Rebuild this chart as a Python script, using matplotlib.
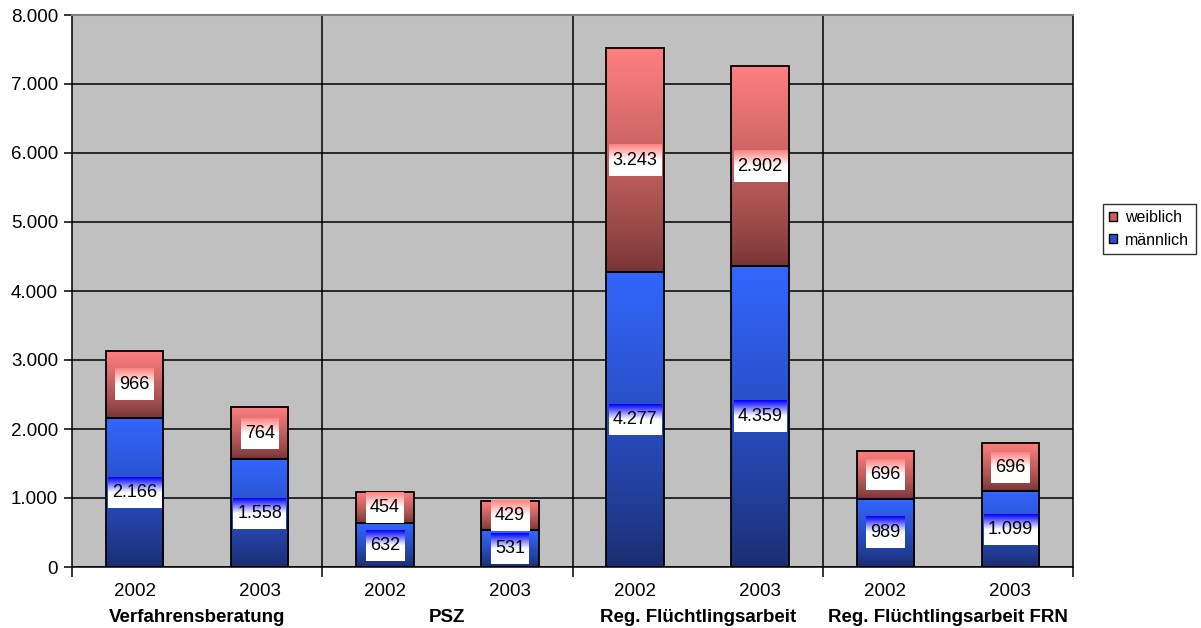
import numpy as np
import matplotlib
matplotlib.use("Agg")
import matplotlib.pyplot as plt
from matplotlib.colors import to_rgb
from matplotlib.patches import Rectangle, Patch
from matplotlib.transforms import blended_transform_factory

plt.rcParams['font.family'] = ['Liberation Sans', 'DejaVu Sans']

groups = ['Verfahrensberatung', 'PSZ', 'Reg. Flüchtlingsarbeit', 'Reg. Flüchtlingsarbeit FRN']
years = ['2002', '2003', '2002', '2003', '2002', '2003', '2002', '2003']
maennlich = [2166, 1558, 632, 531, 4277, 4359, 989, 1099]
weiblich = [966, 764, 454, 429, 3243, 2902, 696, 696]

blue_top, blue_bot = '#3366ff', '#1a2c6c'
red_top, red_bot = '#ff8080', '#743434'


def fmt(v):
    return f'{v:,}'.replace(',', '.')


def bar_grad(top, bottom, n=256, gamma=0.8):
    # row 0 is the top of the bar
    t = np.linspace(1, 0, n)[:, None] ** gamma
    top = np.array(to_rgb(top))
    bottom = np.array(to_rgb(bottom))
    return bottom + (top - bottom) * t[..., None]


def label_grad(col, n=64, reach=0.5):
    t = np.linspace(0, 1, n)[:, None]
    k = np.clip(1 - t / reach, 0, 1)
    col = np.array(to_rgb(col))
    white = np.ones(3)
    return white + (col - white) * k[..., None]


fig = plt.figure(figsize=(12.01, 6.28), dpi=100)
ax = fig.add_axes([72 / 1201, 61 / 628, 1001 / 1201, 552 / 628])
ax.set_facecolor('#c0c0c0')

x = np.arange(len(maennlich)) + 0.5
w = 0.46

for i in range(len(x)):
    m, f = maennlich[i], weiblich[i]
    ax.imshow(bar_grad(blue_top, blue_bot), extent=[x[i] - w / 2, x[i] + w / 2, 0, m],
              aspect='auto', zorder=2, interpolation='bilinear')
    ax.imshow(bar_grad(red_top, red_bot), extent=[x[i] - w / 2, x[i] + w / 2, m, m + f],
              aspect='auto', zorder=2, interpolation='bilinear')
    ax.add_patch(Rectangle((x[i] - w / 2, 0), w, m, fill=False, ec='black', lw=1.3, zorder=3))
    ax.add_patch(Rectangle((x[i] - w / 2, m), w, f, fill=False, ec='black', lw=1.3, zorder=3))

for s in [2, 4, 6]:
    ax.axvline(s, color='black', lw=1.1, zorder=1)

ax.set_xlim(0, 8)
ax.set_ylim(0, 8000)
ax.set_yticks(range(0, 8001, 1000))
ax.set_yticklabels([fmt(v) for v in range(0, 8001, 1000)], fontsize=13.5)
ax.yaxis.grid(True, color='black', lw=1.1)
ax.set_axisbelow(True)
ax.set_xticks([0, 2, 4, 6, 8])
ax.set_xticklabels([])
ax.tick_params(axis='x', length=7, width=1.1, direction='out')
ax.tick_params(axis='y', length=6, width=1.1, direction='out', pad=4)

ax.spines['top'].set_color('#808080')
ax.spines['top'].set_linewidth(1.5)
for sp in ['left', 'bottom', 'right']:
    ax.spines[sp].set_color('black')
    ax.spines[sp].set_linewidth(1.1)

# data labels
labels = []
for i in range(len(x)):
    m, f = maennlich[i], weiblich[i]
    t1 = ax.text(x[i], m / 2, fmt(m), ha='center', va='center', fontsize=13, zorder=5)
    t2 = ax.text(x[i], m + f / 2, fmt(f), ha='center', va='center', fontsize=13, zorder=5)
    labels.append((t1, m / 2, 'blue'))
    labels.append((t2, m + f / 2, 'red'))

fig.canvas.draw()
inv = ax.transData.inverted()
for t, yc, kind in labels:
    bb = t.get_window_extent()
    cx, cy = ax.transData.transform((0, yc))
    x0, y0 = inv.transform((bb.x0 - 4, cy - 15.5))
    x1, y1 = inv.transform((bb.x1 + 4, cy + 15.5))
    col = '#0000ff' if kind == 'blue' else '#ff8080'
    ax.imshow(label_grad(col), extent=[x0, x1, y0, y1], aspect='auto', zorder=4,
              interpolation='bilinear')

ax.set_xlim(0, 8)
ax.set_ylim(0, 8000)

trans = blended_transform_factory(ax.transData, ax.transAxes)
for i in range(len(x)):
    ax.text(x[i], -0.045, years[i], transform=trans, ha='center', va='center', fontsize=13.5)
for g, name in enumerate(groups):
    ax.text(2 * g + 1, -0.091, name, transform=trans, ha='center', va='center',
            fontsize=13.5, fontweight='bold')

handles = [Patch(facecolor='#d05a5a', edgecolor='black', label='weiblich'),
           Patch(facecolor='#2a4fd0', edgecolor='black', label='männlich')]
leg = fig.legend(handles=handles, loc='lower left', bbox_to_anchor=(1103 / 1201, 1 - 254 / 628),
                 fontsize=11.5, frameon=True, fancybox=False, edgecolor='black',
                 handlelength=0.5, handleheight=0.5, handletextpad=0.5, borderpad=0.4,
                 labelspacing=0.45, borderaxespad=0)
leg.get_frame().set_linewidth(1)

fig.savefig('out.png', dpi=100)
